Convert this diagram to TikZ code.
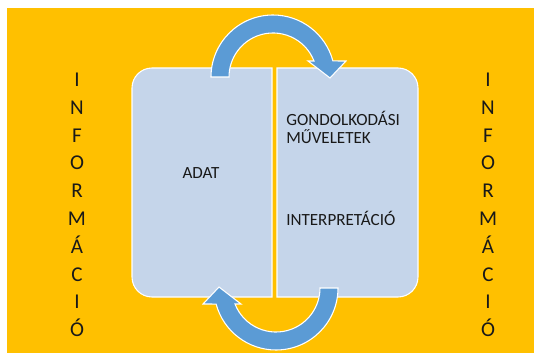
\documentclass[tikz,border=0pt]{standalone}
\usepackage{fontspec}
\setmainfont{Carlito}
\usetikzlibrary{positioning}
\definecolor{InfoOrange}{RGB}{255,192,0}
\definecolor{PanelBlue}{RGB}{197,213,234}
\definecolor{LoopBlue}{RGB}{91,155,213}
\definecolor{InkDark}{RGB}{25,25,25}

\tikzset{
  panel/.style={fill=PanelBlue, draw=white, line width=0.8pt},
  loop arrow/.style={fill=LoopBlue, draw=white, line width=0.8pt},
  panel text/.style={font=\fontsize{12.8}{13.8}\selectfont, text=InkDark, inner sep=0pt},
  side word/.style={font=\fontsize{15.8}{20.85}\selectfont, text=InkDark, inner sep=0pt, align=center},
  pics/turnarrow/.style={code={
    \path[loop arrow] (-62,0) arc[start angle=180, end angle=15, radius=62]
      -- (73,16) -- (57,-1) -- (35,16) -- (41,16)
      arc[start angle=21.3, end angle=180, radius=44] -- cycle;
  }}
}

\begin{document}
\begin{tikzpicture}[x=0.75pt, y=0.75pt]
    % page and background
    \fill[white] (0,0) rectangle (534,353);
    \fill[InfoOrange] (7,0) rectangle (534,345);
    \useasboundingbox (0,0) rectangle (534,353);

    % the two halves
    \path[panel] (272,56) -- (152,56) arc[start angle=270, end angle=180, radius=20]
      -- (132,265) arc[start angle=180, end angle=90, radius=20] -- (272,285) -- cycle;
    \path[panel] (277,56) -- (398,56) arc[start angle=-90, end angle=0, radius=20]
      -- (418,265) arc[start angle=0, end angle=90, radius=20] -- (277,285) -- cycle;

    % turning arrows
    \pic at (273,276) {turnarrow};
    \pic[rotate=180] at (276,65) {turnarrow};

    % texts
    \node[panel text, anchor=base] (adat) at (201,174) {ADAT};
    \node[panel text, anchor=base west] (gondolk) at (286,227) {GONDOLKODÁSI};
    \node[panel text, anchor=base west] (muvel) at ([yshift=-13.5pt]gondolk.base west) {MŰVELETEK};
    \node[panel text, anchor=base west] (interp) at (286,127) {INTERPRETÁCIÓ};

    \node[side word] (infoleft) at (77,148) {I\\N\\F\\O\\R\\M\\Á\\C\\I\\Ó};
    \node[side word] (inforight) at (488,148) {I\\N\\F\\O\\R\\M\\Á\\C\\I\\Ó};
  \end{tikzpicture}
\end{document}
